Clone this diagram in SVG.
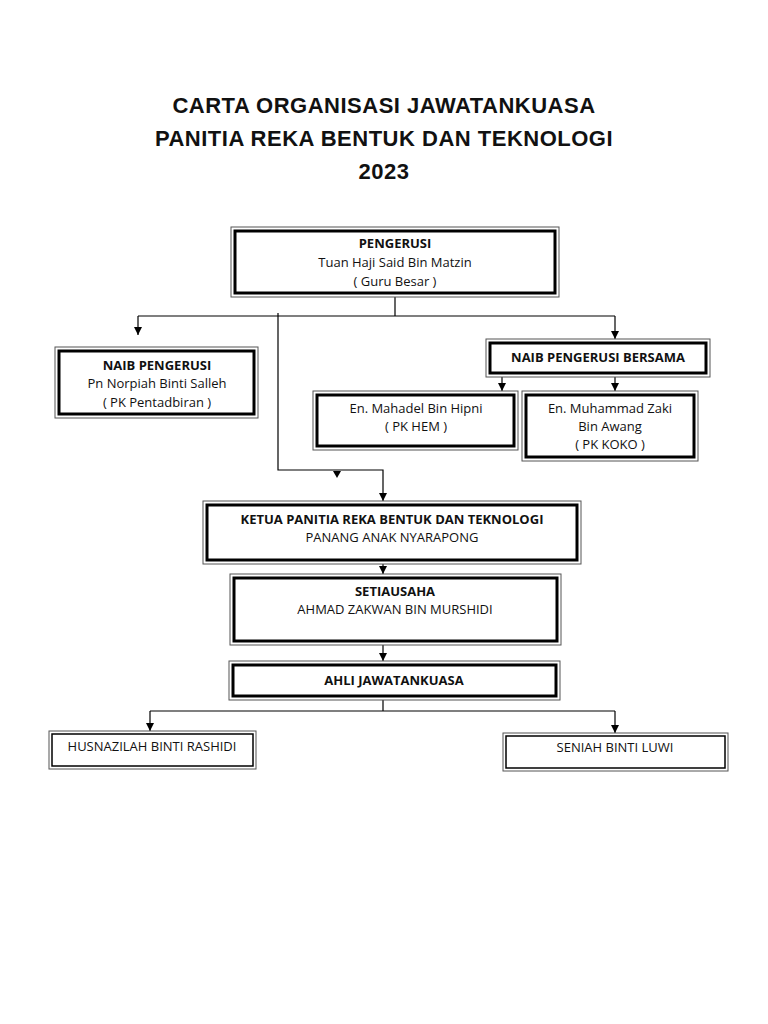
<svg xmlns="http://www.w3.org/2000/svg" width="768" height="1024" viewBox="0 0 768 1024">
<style>
.o{fill:#fff;stroke:#555;stroke-width:1}
.i{fill:none;stroke:#000;stroke-width:3}
.s{fill:none;stroke:#000;stroke-width:1.5}
text{font-family:"Open Sans","Liberation Sans",sans-serif;font-size:13px;text-anchor:middle;fill:#111}
.b{font-weight:bold}
.t{font-family:"Liberation Sans",sans-serif;font-size:22px;font-weight:bold;letter-spacing:0.5px}
.c{stroke:#000;stroke-width:1.2;fill:none}
</style>
<defs>
<marker id="d" viewBox="0 0 8 8" markerWidth="8" markerHeight="8" refX="8" refY="4" orient="auto" markerUnits="userSpaceOnUse"><path d="M0,0 L8,4 L0,8 z" fill="#000"/></marker></defs>
<rect width="768" height="1024" fill="#fff"/>
<g id="title"><text class="t" x="384" y="113">CARTA ORGANISASI JAWATANKUASA</text><text class="t" x="384" y="146">PANITIA REKA BENTUK DAN TEKNOLOGI</text><text class="t" x="384" y="179">2023</text></g>
<g id="connectors">
<path class="c" d="M395,297 V316 M138,316 H615"/>
<path class="c" d="M138,316 V335" marker-end="url(#d)"/>
<path class="c" d="M615,316 V339" marker-end="url(#d)"/>
<path class="c" d="M278,313 V470 H383 V501" marker-end="url(#d)"/>
<path d="M333,471 L341,471 L337,478 z" fill="#000"/>
<path class="c" d="M502,377 V391" marker-end="url(#d)"/>
<path class="c" d="M615,377 V391" marker-end="url(#d)"/>
<path class="c" d="M383,564 V574" marker-end="url(#d)"/>
<path class="c" d="M383,645 V661" marker-end="url(#d)"/>
<path class="c" d="M383,700 V711 M150,711 H615"/>
<path class="c" d="M150,711 V731" marker-end="url(#d)"/>
<path class="c" d="M615,711 V733" marker-end="url(#d)"/>
</g>
<g id="pengerusi"><rect class="o" x="231" y="227" width="328" height="70"/><rect class="i" x="235" y="231" width="320" height="62"/><text class="b" x="395" y="248">PENGERUSI</text><text x="395" y="267">Tuan Haji Said Bin Matzin</text><text x="395" y="286">( Guru Besar )</text></g>
<g id="naib"><rect class="o" x="55" y="347" width="203" height="71"/><rect class="i" x="59" y="351" width="195" height="63"/><text class="b" x="157" y="370">NAIB PENGERUSI</text><text x="157" y="388">Pn Norpiah Binti Salleh</text><text x="157" y="407">( PK Pentadbiran )</text></g>
<g id="bersama"><rect class="o" x="486" y="339" width="224" height="38"/><rect class="i" x="490" y="343" width="216" height="30"/><text class="b" x="598" y="362">NAIB PENGERUSI BERSAMA</text></g>
<g id="mahadel"><rect class="o" x="313" y="391" width="205" height="59"/><rect class="i" x="317" y="395" width="197" height="51"/><text x="416" y="413">En. Mahadel Bin Hipni</text><text x="416" y="431">( PK HEM )</text></g>
<g id="zaki"><rect class="o" x="522" y="391" width="176" height="70"/><rect class="i" x="526" y="395" width="168" height="62"/><text x="610" y="413">En. Muhammad Zaki</text><text x="610" y="431">Bin Awang</text><text x="610" y="449">( PK KOKO )</text></g>
<g id="ketua"><rect class="o" x="203" y="501" width="378" height="63"/><rect class="i" x="207" y="505" width="370" height="55"/><text class="b" x="392" y="524">KETUA PANITIA REKA BENTUK DAN TEKNOLOGI</text><text x="392" y="542">PANANG ANAK NYARAPONG</text></g>
<g id="setiausaha"><rect class="o" x="230" y="574" width="331" height="71"/><rect class="i" x="234" y="578" width="323" height="63"/><text class="b" x="395" y="596">SETIAUSAHA</text><text x="395" y="614">AHMAD ZAKWAN BIN MURSHIDI</text></g>
<g id="ahli"><rect class="o" x="229" y="661" width="331" height="39"/><rect class="i" x="233" y="665" width="323" height="31"/><text class="b" x="394" y="685">AHLI JAWATANKUASA</text></g>
<g id="husna"><rect class="o" x="49" y="731" width="207" height="38"/><rect class="s" x="52" y="734" width="201" height="32"/><text x="152" y="751">HUSNAZILAH BINTI RASHIDI</text></g>
<g id="seniah"><rect class="o" x="503" y="733" width="225" height="38"/><rect class="s" x="506" y="736" width="219" height="32"/><text x="615" y="752">SENIAH BINTI LUWI</text></g>
</svg>
